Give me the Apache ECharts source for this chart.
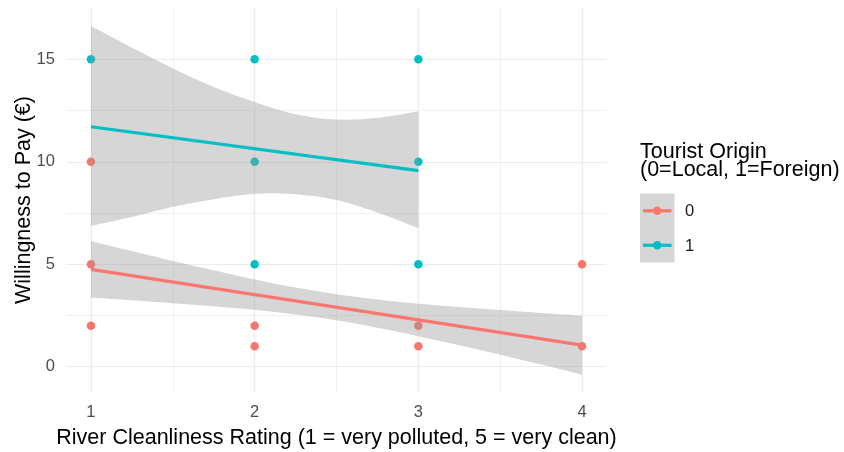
<!DOCTYPE html>
<html><head><meta charset="utf-8">
<script src="https://cdn.jsdelivr.net/npm/echarts@6/dist/echarts.min.js"></script>
<style>html,body{margin:0;padding:0;background:#fff}#c{width:844px;height:452px}</style>
</head><body><div id="c"></div>
<script>
// ---- data ----
const xTicks = [1, 2, 3, 4];
const yTicks = [0, 5, 10, 15];
const xMinor = [1.5, 2.5, 3.5];
const yMinor = [2.5, 7.5, 12.5];
const groupNames = ['0', '1'];
const localPoints = [[1,10],[1,5],[1,2],[2,2],[2,1],[3,2],[3,1],[4,5],[4,1]];
const foreignPoints = [[1,15],[2,15],[3,15],[2,10],[3,10],[2,5],[3,5]];
const localFit = [[1,4.75],[4,1.05]];
const foreignFit = [[1,11.71],[3,9.57]];
const localBandX = [1,1.25,1.5,1.75,2,2.25,2.5,2.75,3,3.25,3.5,3.75,4];
const localUpper = [6.12,5.64,5.16,4.71,4.26,3.87,3.54,3.28,3.07,2.91,2.76,2.62,2.49];
const localLower = [3.38,3.24,3.10,2.95,2.78,2.55,2.26,1.90,1.49,1.05,0.58,0.10,-0.39];
const foreignBandX = [1,1.25,1.5,1.75,2,2.25,2.5,2.75,3];
const foreignUpper = [16.63,15.58,14.56,13.65,12.92,12.32,12.06,12.15,12.47];
const foreignLower = [6.87,7.30,7.80,8.17,8.44,8.42,8.14,7.53,6.77];

const RED = '#F8766D', TEAL = '#00BFC4';
const FONT = '"Liberation Sans", Arial, sans-serif';
const BAND = 'rgba(153,153,153,0.4)';

// smooth curve drawing (Catmull-Rom -> cubic Bezier) through already projected pixel points
function curveSegs(p, start) {
  let d = start ? 'M' + p[0][0] + ',' + p[0][1] : 'L' + p[0][0] + ',' + p[0][1];
  for (let i = 0; i < p.length - 1; i++) {
    const p0 = p[Math.max(i - 1, 0)], p1 = p[i], p2 = p[i + 1], p3 = p[Math.min(i + 2, p.length - 1)];
    const c1 = [p1[0] + (p2[0] - p0[0]) / 6, p1[1] + (p2[1] - p0[1]) / 6];
    const c2 = [p2[0] - (p3[0] - p1[0]) / 6, p2[1] - (p3[1] - p1[1]) / 6];
    d += 'C' + c1[0] + ',' + c1[1] + ',' + c2[0] + ',' + c2[1] + ',' + p2[0] + ',' + p2[1];
  }
  return d;
}

function bandSeries(xs, up, lo, z) {
  return {
    type: 'custom', coordinateSystem: 'cartesian2d', silent: true, z: z,
    data: [[xs[0], up[0]]],
    renderItem: function (params, api) {
      const top = [], bot = [];
      for (let i = 0; i < xs.length; i++) top.push(api.coord([xs[i], up[i]]));
      for (let i = xs.length - 1; i >= 0; i--) bot.push(api.coord([xs[i], lo[i]]));
      const d = curveSegs(top, true) + curveSegs(bot, false) + 'Z';
      return { type: 'path', shape: { pathData: d }, style: { fill: BAND } };
    }
  };
}

const gridMajor = xTicks.map(v => ({ xAxis: v })).concat(yTicks.map(v => ({ yAxis: v })));
const gridMinor = xMinor.map(v => ({ xAxis: v })).concat(yMinor.map(v => ({ yAxis: v })));

const chart = echarts.init(document.getElementById('c'), null, { renderer: 'canvas' });
chart.setOption({
  backgroundColor: '#ffffff',
  animation: false,
  grid: { left: 66.4, top: 7.7, width: 540.2, height: 385.2, containLabel: false },
  xAxis: {
    type: 'value', min: 0.85, max: 4.15,
    axisLine: { show: false }, axisTick: { show: false }, splitLine: { show: false },
    axisLabel: { customValues: xTicks, color: '#4D4D4D', fontSize: 16.5, fontFamily: FONT, margin: 11 }
  },
  yAxis: {
    type: 'value', min: -1.28, max: 17.52,
    axisLine: { show: false }, axisTick: { show: false }, splitLine: { show: false },
    axisLabel: { customValues: yTicks, color: '#4D4D4D', fontSize: 16.5, fontFamily: FONT, margin: 11.5 }
  },
  series: [
    { type: 'scatter', data: [[1, 0]], symbolSize: 0, silent: true, z: 0,
      markLine: { silent: true, z: 0, symbol: 'none', label: { show: false }, animation: false,
        lineStyle: { color: '#EEEEEE', width: 0.8, type: 'solid' }, data: gridMinor } },
    { type: 'scatter', data: [[1, 0]], symbolSize: 0, silent: true, z: 0,
      markLine: { silent: true, z: 0, symbol: 'none', label: { show: false }, animation: false,
        lineStyle: { color: '#EBEBEB', width: 1.2, type: 'solid' }, data: gridMajor } },
    { type: 'scatter', name: groupNames[0], data: localPoints, symbolSize: 8.5, itemStyle: { color: RED, opacity: 1 }, z: 2 },
    { type: 'scatter', name: groupNames[1], data: foreignPoints, symbolSize: 8.5, itemStyle: { color: TEAL, opacity: 1 }, z: 2 },
    bandSeries(localBandX, localUpper, localLower, 3),
    { type: 'line', data: localFit, showSymbol: false, silent: true, lineStyle: { color: RED, width: 3.2 }, z: 4 },
    bandSeries(foreignBandX, foreignUpper, foreignLower, 5),
    { type: 'line', data: foreignFit, showSymbol: false, silent: true, lineStyle: { color: TEAL, width: 3.2 }, z: 6 }
  ],
  graphic: [
    { type: 'text', x: 336.5, y: 438, style: { text: 'River Cleanliness Rating (1 = very polluted, 5 = very clean)', fill: '#000', font: '21.5px ' + FONT, textAlign: 'center', textVerticalAlign: 'middle' } },
    { type: 'text', x: 24, y: 200, rotation: Math.PI / 2, style: { text: 'Willingness to Pay (€)', fill: '#000', font: '21.5px ' + FONT, textAlign: 'center', textVerticalAlign: 'middle' } },
    { type: 'text', x: 640, y: 152, style: { text: 'Tourist Origin', fill: '#000', font: '21.5px ' + FONT, textAlign: 'left', textVerticalAlign: 'middle' } },
    { type: 'text', x: 640, y: 170.5, style: { text: '(0=Local, 1=Foreign)', fill: '#000', font: '21.5px ' + FONT, textAlign: 'left', textVerticalAlign: 'middle' } },
    { type: 'rect', shape: { x: 640, y: 193.5, width: 34.5, height: 69 }, style: { fill: '#D6D6D6' } },
    { type: 'line', shape: { x1: 643, y1: 210.8, x2: 671.5, y2: 210.8 }, style: { stroke: RED, lineWidth: 3.2 } },
    { type: 'circle', shape: { cx: 657.2, cy: 210.8, r: 4.25 }, style: { fill: RED } },
    { type: 'line', shape: { x1: 643, y1: 245.3, x2: 671.5, y2: 245.3 }, style: { stroke: TEAL, lineWidth: 3.2 } },
    { type: 'circle', shape: { cx: 657.2, cy: 245.3, r: 4.25 }, style: { fill: TEAL } },
    { type: 'text', x: 685, y: 211, style: { text: groupNames[0], fill: '#1A1A1A', font: '16.5px ' + FONT, textAlign: 'left', textVerticalAlign: 'middle' } },
    { type: 'text', x: 685, y: 246, style: { text: groupNames[1], fill: '#1A1A1A', font: '16.5px ' + FONT, textAlign: 'left', textVerticalAlign: 'middle' } }
  ]
});
</script>
</body></html>
